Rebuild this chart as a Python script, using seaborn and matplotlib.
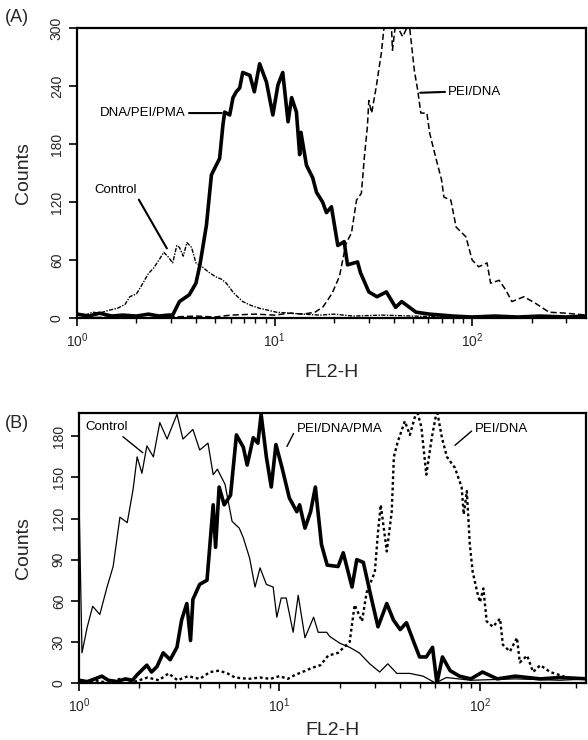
import numpy as np
import pandas as pd
import matplotlib
matplotlib.use('Agg')
import matplotlib.pyplot as plt
import seaborn as sns
from matplotlib.ticker import LogLocator, NullFormatter

# ---- panel A ----
a_pma_x = [1.0, 1.15, 1.3, 1.5, 1.7, 2.0, 2.3, 2.6, 2.9, 3.05, 3.3, 3.7, 4.0, 4.19, 4.52,
           4.79, 4.98, 5.27, 5.48, 5.59, 5.93, 6.16, 6.4, 6.66, 6.9, 7.5, 7.9, 8.4, 9.1,
           9.8, 10.4, 11.0, 11.7, 12.2, 12.9, 13.4, 13.6, 14.5, 15.6, 16.3, 17.5, 18.3,
           19.4, 20.9, 22.5, 23.4, 26.3, 27.2, 30.0, 33.0, 36.8, 41.0, 44.0, 52.0, 61.0,
           70, 80, 100, 130, 170, 220, 300, 380]
a_pma_y = [4, 2, 5, 2, 3, 2, 4, 2, 3, 3, 17, 24, 36, 55, 96,
           148, 155, 165, 200, 213, 210, 228, 234, 238, 254, 251, 234, 263, 244,
           210, 241, 254, 203, 228, 213, 169, 192, 158, 145, 130, 120, 109,
           115, 75, 79, 55, 58, 47, 27, 22, 27, 11, 17, 6, 4,
           3, 2, 1, 2, 1, 2, 1, 2]

a_ctrl_x = [1.0, 1.1, 1.2, 1.3, 1.45, 1.6, 1.75, 1.85, 2.0, 2.1, 2.3, 2.45, 2.6, 2.75,
            2.9, 3.05, 3.2, 3.3, 3.45, 3.6, 3.8, 4.0, 4.3, 4.6, 5.0, 5.4, 5.7, 6.2,
            6.9, 7.6, 8.4, 9.3, 10.2, 12, 14, 17, 20, 25, 35, 50, 80, 120, 200, 380]
a_ctrl_y = [5, 3, 6, 5, 8, 10, 14, 22, 25, 32, 46, 52, 60, 68,
            63, 57, 75, 73, 64, 78, 73, 57, 53, 48, 43, 40, 36, 26,
            17, 13, 10, 8, 6, 5, 4, 3, 4, 2, 3, 2, 1, 2, 1, 2]

a_pei_x = [1.0, 1.5, 2.0, 3.0, 4.0, 5.0, 6.0, 8.0, 10, 12, 14, 16, 17.5, 18.5, 19.6,
           21.3, 23, 24.5, 26, 27.5, 28.5, 29.5, 30, 31, 32.7, 34.7, 36, 37.5, 39,
           39.5, 41, 44.5, 48, 51, 53, 55, 59, 61, 66, 70, 72, 78, 83, 93, 100, 108,
           119, 124, 137, 148, 159, 183, 210, 245, 297, 380]
a_pei_y = [0, 1, 0, 1, 2, 1, 3, 4, 3, 5, 4, 6, 11, 18, 26,
           43, 77, 88, 122, 129, 167, 198, 225, 212, 239, 274, 305, 310, 305,
           277, 305, 291, 305, 256, 236, 212, 212, 191, 163, 143, 125, 122, 94, 84, 60, 53,
           57, 36, 39, 29, 17, 22, 15, 6, 5, 3]

# ---- panel B ----
b_ctrl_x = [1.0, 1.035, 1.1, 1.17, 1.27, 1.38, 1.48, 1.6, 1.74, 1.86, 1.95, 2.06, 2.18,
            2.35, 2.53, 2.75, 3.08, 3.3, 3.7, 4.0, 4.4, 4.67, 4.9, 5.35, 5.8, 6.3,
            6.6, 7.1, 7.55, 8.0, 8.6, 9.3, 9.7, 10.2, 10.8, 11.7, 12.4, 13.4, 14.8,
            15.6, 17.2, 17.8, 20, 22.4, 25, 28.2, 31.6, 34.7, 38.5, 44.7, 52, 60, 68,
            90, 150, 250, 350]
b_ctrl_y = [135, 22, 41, 56, 50, 70, 85, 121, 117, 141, 165, 153, 173,
            165, 190, 178, 196, 178, 185, 170, 175, 152, 156, 145, 118, 113,
            106, 91, 70, 84, 72, 70, 48, 62, 62, 37, 64, 33, 48,
            37, 37, 34, 29, 26, 22, 14, 8, 14, 7, 7, 5, 0, 4,
            2, 3, 2, 3]

b_pma_x = [1.0, 1.1, 1.2, 1.3, 1.4, 1.55, 1.7, 1.85, 1.95, 2.18, 2.3, 2.45, 2.63, 2.85,
           3.08, 3.25, 3.45, 3.6, 3.7, 4.0, 4.35, 4.67, 4.8, 5.0, 5.3, 5.7, 6.1, 6.6,
           6.9, 7.4, 7.8, 8.1, 8.6, 9.1, 9.6, 10.3, 11.2, 12.2, 12.6, 13.4, 14.3,
           15.1, 16.2, 17.3, 19.6, 20.8, 23, 24.3, 26.2, 28.3, 31, 34.3, 37, 40, 43,
           47, 50, 54, 58, 61, 65, 71, 79, 90, 103, 122, 150, 200, 250, 350]
b_pma_y = [2, 1, 3, 5, 2, 1, 3, 2, 6, 13, 8, 12, 22, 17,
           26, 46, 58, 31, 61, 72, 75, 130, 99, 143, 130, 137, 181, 172,
           159, 179, 175, 196, 165, 143, 174, 157, 135, 125, 130, 113, 125,
           143, 101, 86, 85, 95, 70, 90, 88, 66, 41, 58, 46, 39, 44,
           29, 19, 19, 26, 0, 19, 9, 5, 3, 8, 3, 5, 3, 4, 3]

b_pei_x = [1.0, 1.2, 1.4, 1.6, 1.9, 2.2, 2.5, 2.8, 3.1, 3.5, 4.0, 4.5, 5.0, 5.5, 6.0,
           7.0, 8.0, 9.0, 10, 11, 12, 13, 14.5, 16, 17.5, 19.6, 22.4, 23.7, 25.8,
           27.2, 29.9, 31, 32, 34.3, 36.3, 37.2, 38.9, 42.2, 44.7, 48.4, 51, 54,
           57.5, 61, 64.6, 68.4, 75, 81, 83, 86, 89, 92, 97, 100, 104, 108, 116,
           126, 130, 141, 153, 158, 172, 184, 200, 224, 272, 350]
b_pei_y = [0, 2, 0, 3, 1, 4, 2, 7, 2, 5, 3, 8, 9, 7, 4,
           3, 4, 3, 5, 3, 6, 8, 11, 13, 20, 22, 30, 57, 45,
           66, 81, 110, 130, 96, 125, 165, 176, 191, 181, 199, 187, 152,
           179, 199, 179, 165, 157, 143, 123, 140, 101, 81, 66, 59, 69, 45, 41,
           47, 28, 23, 33, 15, 20, 8, 13, 8, 4, 3]

sns.set_style('ticks')
plt.rcParams['font.family'] = ['Liberation Sans', 'DejaVu Sans']
plt.rcParams['mathtext.default'] = 'regular'

fig = plt.figure(figsize=(5.88, 7.4), dpi=100)
W, H = 588, 740
axA = fig.add_axes([77 / W, 1 - 318 / H, 509 / W, 290 / H])
axB = fig.add_axes([79 / W, 1 - 683 / H, 507 / W, 270 / H])


def draw(ax, x, y, lw, ls):
    df = pd.DataFrame({'FL2-H': x, 'Counts': y})
    sns.lineplot(data=df, x='FL2-H', y='Counts', ax=ax, color='black',
                 lw=lw, linestyle=ls, estimator=None, sort=False)


draw(axA, a_ctrl_x, a_ctrl_y, 1.0, (0, (3, 1, 1, 1)))
draw(axA, a_pei_x, a_pei_y, 1.1, (0, (4, 2)))
draw(axA, a_pma_x, a_pma_y, 2.6, '-')

draw(axB, b_pei_x, b_pei_y, 1.7, (0, (1.2, 1.2)))
draw(axB, b_ctrl_x, b_ctrl_y, 0.9, '-')
draw(axB, b_pma_x, b_pma_y, 2.6, '-')


def style(ax, xmax, ymax, yticks, lab_x, lab_y):
    ax.set_xscale('log')
    ax.set_xlim(1, xmax)
    ax.set_ylim(0, ymax)
    ax.set_yticks(yticks)
    ax.xaxis.set_major_locator(LogLocator(base=10))
    ax.xaxis.set_minor_locator(LogLocator(base=10, subs=np.arange(2, 10)))
    ax.xaxis.set_minor_formatter(NullFormatter())
    ax.tick_params(axis='both', which='major', length=6, width=1.2,
                   color='black', labelsize=10, direction='out')
    ax.tick_params(axis='x', which='minor', length=3.5, width=1.0, color='black')
    plt.setp(ax.get_yticklabels(), rotation=90, va='center')
    for s in ax.spines.values():
        s.set_visible(True)
        s.set_linewidth(1.6)
        s.set_color('black')
    ax.set_xlabel('FL2-H', fontsize=14)
    ax.set_ylabel('Counts', fontsize=14)
    ax.yaxis.set_label_coords(lab_x, 0.5)
    ax.xaxis.set_label_coords(0.5, lab_y)


style(axA, 377, 300, [0, 60, 120, 180, 240, 300], -0.088, -0.16)
style(axB, 338, 197, [0, 30, 60, 90, 120, 150, 180], -0.093, -0.145)

lk = dict(fontsize=9.5, color='black')
arr = dict(arrowstyle='-', color='black', lw=1.5, shrinkA=0, shrinkB=0)
axA.annotate('DNA/PEI/PMA', xy=(5.4, 212), xytext=(3.55, 212), ha='right',
             va='center', arrowprops=dict(arr, relpos=(1, 0.5)), **lk)
axA.annotate('Control', xy=(2.85, 72), xytext=(1.57, 132), ha='center',
             va='center', arrowprops=dict(arr, relpos=(1, 0)), **lk)
axA.annotate('PEI/DNA', xy=(54.6, 233), xytext=(75.7, 234), ha='left',
             va='center', arrowprops=dict(arr, relpos=(0, 0.5)), **lk)

arr2 = dict(arrowstyle='-', color='black', lw=1.0, shrinkA=0, shrinkB=0)
axB.annotate('Control', xy=(2.08, 168), xytext=(1.08, 186.5), ha='left',
             va='center', arrowprops=dict(arr2, relpos=(0.78, 0)), **lk)
axB.annotate('PEI/DNA/PMA', xy=(10.9, 172.6), xytext=(12.2, 185), ha='left',
             va='center', arrowprops=dict(arr2, relpos=(0, 0.7)), **lk)
axB.annotate('PEI/DNA', xy=(75, 173.4), xytext=(94.4, 185), ha='left',
             va='center', arrowprops=dict(arr2, relpos=(0, 0.6)), **lk)

fig.text(5 / W, 1 - 17 / H, '(A)', fontsize=13, va='center', ha='left')
fig.text(5 / W, 1 - 423 / H, '(B)', fontsize=13, va='center', ha='left')

fig.savefig('out.png', dpi=100)
